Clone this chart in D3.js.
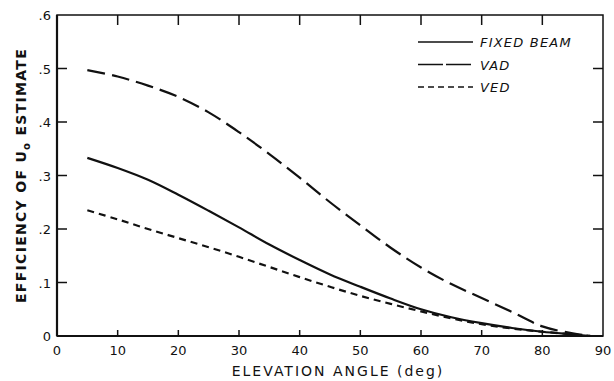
<!DOCTYPE html>
<html>
<head>
<meta charset="utf-8">
<script src="https://cdn.jsdelivr.net/npm/d3@7"></script>
<style>
  body { margin: 0; background: #fff; }
  text { font-family: "DejaVu Sans", sans-serif; fill: #111; }
</style>
</head>
<body>
<div id="chart"></div>
<script>
// elevation angle (deg)
const angles = [5, 10, 15, 20, 25, 30, 35, 40, 45, 50, 55, 60, 65, 70, 75, 80, 85, 88];
const fixedBeam = [0.333, 0.314, 0.292, 0.264, 0.234, 0.203, 0.171, 0.142, 0.115, 0.092, 0.070, 0.050, 0.035, 0.024, 0.015, 0.008, 0.003, 0];
const vad = [0.497, 0.485, 0.468, 0.447, 0.418, 0.381, 0.340, 0.296, 0.250, 0.207, 0.165, 0.128, 0.097, 0.071, 0.045, 0.018, 0.005, 0];
const ved = [0.235, 0.218, 0.200, 0.183, 0.166, 0.148, 0.129, 0.110, 0.092, 0.075, 0.060, 0.046, 0.033, 0.022, 0.014, 0.008, 0.003, 0];

const xTicks = [0, 10, 20, 30, 40, 50, 60, 70, 80, 90];
const yTicks = [0, 0.1, 0.2, 0.3, 0.4, 0.5, 0.6];
const yTickLabels = ['0', '.1', '.2', '.3', '.4', '.5', '.6'];

const series = [
  { name: 'FIXED BEAM', values: fixedBeam, dash: null, legendDash: null },
  { name: 'VAD', values: vad, dash: '18,7', legendDash: '25,3' },
  { name: 'VED', values: ved, dash: '7,5', legendDash: '6,4' }
];

const width = 614, height = 381;
const margin = { top: 15, right: 11, bottom: 45, left: 57 };

const svg = d3.select('#chart').append('svg')
  .attr('width', width)
  .attr('height', height);

const x = d3.scaleLinear().domain([0, 90]).range([margin.left, width - margin.right]);
const y = d3.scaleLinear().domain([0, 0.6]).range([height - margin.bottom, margin.top]);

// frame
svg.append('rect')
  .attr('x', x(0)).attr('y', y(0.6))
  .attr('width', x(90) - x(0)).attr('height', y(0) - y(0.6))
  .attr('fill', 'none').attr('stroke', '#111').attr('stroke-width', 1.5);
svg.append('line')
  .attr('x1', x(0)).attr('x2', x(0)).attr('y1', y(0.6)).attr('y2', y(0))
  .attr('stroke', '#111').attr('stroke-width', 2.2);
svg.append('line')
  .attr('x1', x(0)).attr('x2', x(90)).attr('y1', y(0)).attr('y2', y(0))
  .attr('stroke', '#111').attr('stroke-width', 2.2);

// inward ticks
const tickG = svg.append('g').attr('stroke', '#111').attr('stroke-width', 1.5);
xTicks.slice(1, -1).forEach(t => {
  tickG.append('line').attr('x1', x(t)).attr('x2', x(t)).attr('y1', y(0.6)).attr('y2', y(0.6) + 10);
  tickG.append('line').attr('x1', x(t)).attr('x2', x(t)).attr('y1', y(0)).attr('y2', y(0) - 6);
});
yTicks.slice(1, -1).forEach(t => {
  tickG.append('line').attr('x1', x(0)).attr('x2', x(0) + 10).attr('y1', y(t)).attr('y2', y(t));
  tickG.append('line').attr('x1', x(90)).attr('x2', x(90) - 10).attr('y1', y(t)).attr('y2', y(t));
});

// tick labels
svg.append('g').selectAll('text').data(xTicks).join('text')
  .attr('x', d => x(d)).attr('y', y(0) + 19)
  .attr('text-anchor', 'middle')
  .attr('font-size', 13)
  .text(d => d);

svg.append('g').selectAll('text').data(yTicks).join('text')
  .attr('x', x(0) - 6).attr('y', d => y(d) + 5)
  .attr('text-anchor', 'end')
  .attr('font-size', 13)
  .text((d, i) => yTickLabels[i]);

// axis titles
svg.append('text')
  .attr('x', 338).attr('y', 376)
  .attr('text-anchor', 'middle')
  .attr('font-size', 14)
  .attr('letter-spacing', 2)
  .text('ELEVATION ANGLE (deg)');

const yt = svg.append('text')
  .attr('transform', `translate(26,${(y(0) + y(0.6)) / 2}) rotate(-90)`)
  .attr('text-anchor', 'middle')
  .attr('font-size', 14)
  .attr('font-weight', 'bold')
  .attr('letter-spacing', 1.3);
yt.append('tspan').text('EFFICIENCY OF U');
yt.append('tspan').attr('font-size', 10).attr('dy', 4).text('o');
yt.append('tspan').attr('dy', -4).text(' ESTIMATE');

// curves
const line = d3.line()
  .x((d, i) => x(angles[i]))
  .y(d => y(d))
  .curve(d3.curveCatmullRom.alpha(0.5));

svg.append('g').selectAll('path').data(series).join('path')
  .attr('d', d => line(d.values))
  .attr('fill', 'none')
  .attr('stroke', '#111')
  .attr('stroke-width', 2.2)
  .attr('stroke-dasharray', d => d.dash);

// legend
const legend = svg.append('g');
series.forEach((s, i) => {
  const ly = 42 + i * 22.5;
  legend.append('line')
    .attr('x1', 418).attr('x2', 473).attr('y1', ly).attr('y2', ly)
    .attr('stroke', '#111').attr('stroke-width', 1.6)
    .attr('stroke-dasharray', s.legendDash);
  legend.append('text')
    .attr('x', 480).attr('y', ly + 5)
    .attr('font-size', 13)
    .attr('font-style', 'italic')
    .attr('letter-spacing', 1.2)
    .text(s.name);
});
</script>
</body>
</html>
